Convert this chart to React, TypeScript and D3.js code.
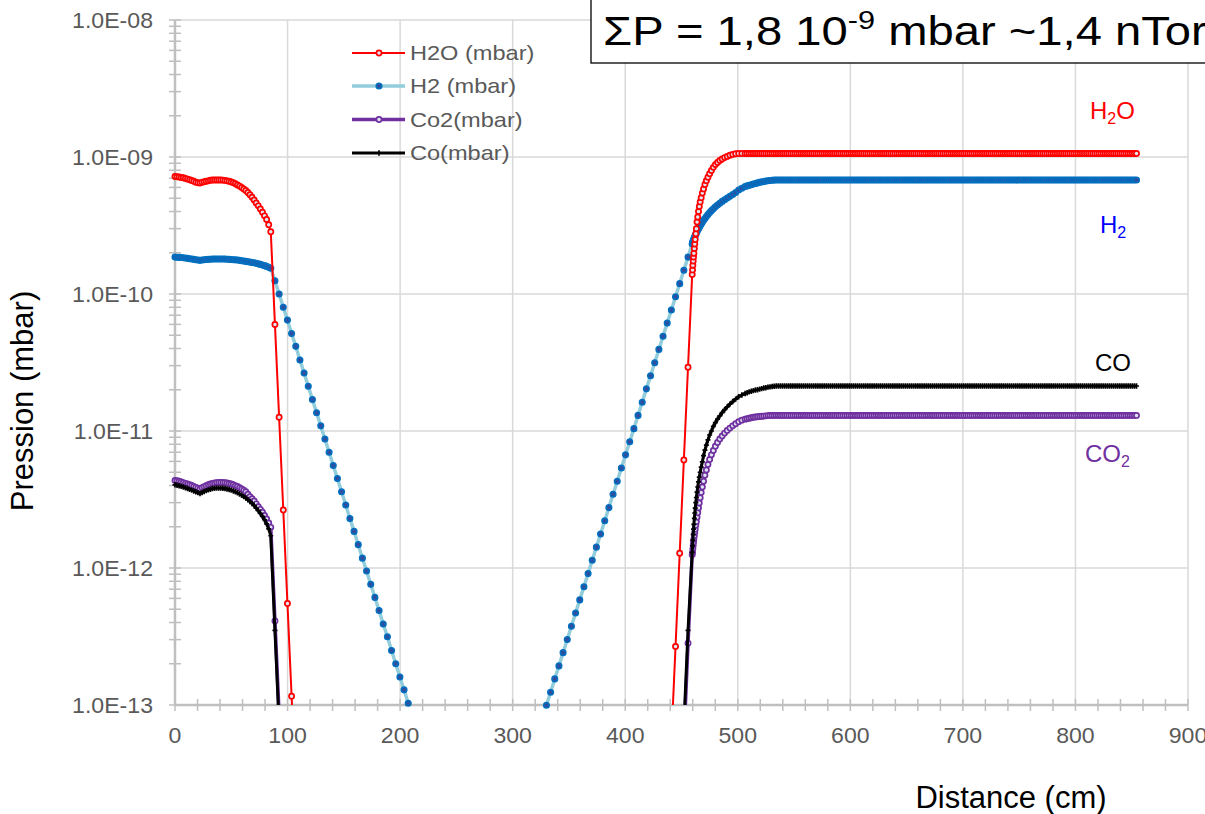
import React from "react";
import * as d3 from "d3";

// ---------- DATA ----------
const xTicks = [0, 100, 200, 300, 400, 500, 600, 700, 800, 900];
const yTicks = [1e-13, 1e-12, 1e-11, 1e-10, 1e-9, 1e-8];
const yTickLabels = ["1.0E-13", "1.0E-12", "1.0E-11", "1.0E-10", "1.0E-09", "1.0E-08"];

// simulation mesh (cm)
const distLeft = [
  0, 1.85, 3.7, 5.55, 7.4, 9.25, 11.1, 12.95, 14.8, 16.65,
  18.5, 20.35, 22.2, 24.05, 25.9, 27.75, 29.6, 31.45, 33.3, 35.15,
  37, 38.85, 40.7, 42.55, 44.4, 46.25, 48.1, 49.95, 51.8, 53.65,
  55.5, 57.35, 59.2, 61.05, 62.9, 64.75, 66.6, 68.45, 70.3, 72.15,
  74, 75.85, 77.7, 79.55, 81.4, 83.25, 85.1,
  88.8, 92.5, 96.2, 99.9, 103.6, 107.3, 111, 114.7, 118.4, 122.1,
  125.8, 129.5, 133.2, 136.9, 140.6, 144.3, 148, 151.7, 155.4, 159.1,
  162.8, 166.5, 170.2, 173.9, 177.6, 181.3, 185, 188.7, 192.4, 196.1,
  199.8, 203.5, 207.2, 210.9,
];
const distRise = [
  326.3, 330.0, 333.7, 337.4, 341.1, 344.8, 348.5, 352.2, 355.9, 359.6,
  363.3, 367.0, 370.7, 374.4, 378.1, 381.8, 385.5, 389.2, 392.9, 396.6,
  400.3, 404.0, 407.7, 411.4, 415.1, 418.8, 422.5, 426.2, 429.9, 433.6,
  437.3, 441.0, 444.7, 448.4, 452.1, 455.8, 459.5,
];
const distRefined = [
  459.8, 460.1, 460.4, 460.7, 461.0, 461.4, 461.8, 462.2, 462.7, 463.2,
  463.8, 464.4, 465.1, 465.8, 466.6, 467.5, 468.5, 469.6, 470.8, 472.1,
  473.5, 475.0, 476.6, 478.3, 480.1, 482.0, 484.0, 486.1, 488.3, 490.6,
  493.0, 495.5, 498.1, 500.8, 503.6, 506.5,
];
const distTail = [
  508.3, 510.15, 512.0, 513.85, 515.7, 517.55, 519.4, 521.25, 523.1, 524.95,
  526.8, 528.65, 530.5, 532.35, 534.2, 536.05, 537.9, 539.75, 541.6, 543.45,
  545.3, 547.15, 549.0, 550.85, 552.7, 554.55, 556.4, 558.25, 560.1, 561.95,
  563.8, 565.65, 567.5, 569.35, 571.2, 573.05, 574.9, 576.75, 578.6, 580.45,
  582.3, 584.15, 586.0, 587.85, 589.7, 591.55, 593.4, 595.25, 597.1, 598.95,
  600.8, 602.65, 604.5, 606.35, 608.2, 610.05, 611.9, 613.75, 615.6, 617.45,
  619.3, 621.15, 623.0, 624.85, 626.7, 628.55, 630.4, 632.25, 634.1, 635.95,
  637.8, 639.65, 641.5, 643.35, 645.2, 647.05, 648.9, 650.75, 652.6, 654.45,
  656.3, 658.15, 660.0, 661.85, 663.7, 665.55, 667.4, 669.25, 671.1, 672.95,
  674.8, 676.65, 678.5, 680.35, 682.2, 684.05, 685.9, 687.75, 689.6, 691.45,
  693.3, 695.15, 697.0, 698.85, 700.7, 702.55, 704.4, 706.25, 708.1, 709.95,
  711.8, 713.65, 715.5, 717.35, 719.2, 721.05, 722.9, 724.75, 726.6, 728.45,
  730.3, 732.15, 734.0, 735.85, 737.7, 739.55, 741.4, 743.25, 745.1, 746.95,
  748.8, 750.65, 752.5, 754.35, 756.2, 758.05, 759.9, 761.75, 763.6, 765.45,
  767.3, 769.15, 771.0, 772.85, 774.7, 776.55, 778.4, 780.25, 782.1, 783.95,
  785.8, 787.65, 789.5, 791.35, 793.2, 795.05, 796.9, 798.75, 800.6, 802.45,
  804.3, 806.15, 808.0, 809.85, 811.7, 813.55, 815.4, 817.25, 819.1, 820.95,
  822.8, 824.65, 826.5, 828.35, 830.2, 832.05, 833.9, 835.75, 837.6, 839.45,
  841.3, 843.15, 845.0, 846.85, 848.7, 850.55, 852.4, 854.25,
];

// H2O (mbar)
const h2oLeft = [
  7.2e-10, 7.18e-10, 7.15e-10, 7.1e-10, 7.05e-10, 6.98e-10, 6.9e-10, 6.83e-10, 6.75e-10, 6.65e-10,
  6.55e-10, 6.48e-10, 6.45e-10, 6.53e-10, 6.6e-10, 6.65e-10, 6.7e-10, 6.76e-10, 6.8e-10, 6.8e-10,
  6.8e-10, 6.8e-10, 6.8e-10, 6.78e-10, 6.75e-10, 6.7e-10, 6.65e-10, 6.58e-10, 6.5e-10, 6.38e-10,
  6.25e-10, 6.13e-10, 6.0e-10, 5.85e-10, 5.7e-10, 5.5e-10, 5.3e-10, 5.08e-10, 4.85e-10, 4.62e-10,
  4.4e-10, 4.17e-10, 3.95e-10, 3.72e-10, 3.5e-10, 3.2e-10, 2.85e-10,
  6.0e-11, 1.26e-11, 2.65e-12, 5.5e-13, 1.16e-13, 2.4e-14,
];
const h2oRise = [5.6e-14, 2.67e-13, 1.28e-12, 6.14e-12, 2.92e-11, 1.39e-10];
const h2oRefined = [
  1.5e-10, 1.62e-10, 1.74e-10, 1.86e-10, 1.98e-10, 2.15e-10, 2.32e-10, 2.5e-10, 2.75e-10, 3.0e-10,
  3.35e-10, 3.65e-10, 4.0e-10, 4.35e-10, 4.7e-10, 5.05e-10, 5.45e-10, 5.85e-10, 6.3e-10, 6.72e-10,
  7.12e-10, 7.55e-10, 7.98e-10, 8.4e-10, 8.8e-10, 9.12e-10, 9.42e-10, 9.68e-10, 9.9e-10, 1.01e-9,
  1.03e-9, 1.045e-9, 1.055e-9, 1.06e-9, 1.06e-9, 1.06e-9,
];
const h2oTail = [
  1.06e-9, 1.06e-9, 1.06e-9, 1.06e-9, 1.06e-9, 1.06e-9, 1.06e-9, 1.06e-9, 1.06e-9, 1.06e-9,
  1.06e-9, 1.06e-9, 1.06e-9, 1.06e-9, 1.06e-9, 1.06e-9, 1.06e-9, 1.06e-9, 1.06e-9, 1.06e-9,
  1.06e-9, 1.06e-9, 1.06e-9, 1.06e-9, 1.06e-9, 1.06e-9, 1.06e-9, 1.06e-9, 1.06e-9, 1.06e-9,
  1.06e-9, 1.06e-9, 1.06e-9, 1.06e-9, 1.06e-9, 1.06e-9, 1.06e-9, 1.06e-9, 1.06e-9, 1.06e-9,
  1.06e-9, 1.06e-9, 1.06e-9, 1.06e-9, 1.06e-9, 1.06e-9, 1.06e-9, 1.06e-9, 1.06e-9, 1.06e-9,
  1.06e-9, 1.06e-9, 1.06e-9, 1.06e-9, 1.06e-9, 1.06e-9, 1.06e-9, 1.06e-9, 1.06e-9, 1.06e-9,
  1.06e-9, 1.06e-9, 1.06e-9, 1.06e-9, 1.06e-9, 1.06e-9, 1.06e-9, 1.06e-9, 1.06e-9, 1.06e-9,
  1.06e-9, 1.06e-9, 1.06e-9, 1.06e-9, 1.06e-9, 1.06e-9, 1.06e-9, 1.06e-9, 1.06e-9, 1.06e-9,
  1.06e-9, 1.06e-9, 1.06e-9, 1.06e-9, 1.06e-9, 1.06e-9, 1.06e-9, 1.06e-9, 1.06e-9, 1.06e-9,
  1.06e-9, 1.06e-9, 1.06e-9, 1.06e-9, 1.06e-9, 1.06e-9, 1.06e-9, 1.06e-9, 1.06e-9, 1.06e-9,
  1.06e-9, 1.06e-9, 1.06e-9, 1.06e-9, 1.06e-9, 1.06e-9, 1.06e-9, 1.06e-9, 1.06e-9, 1.06e-9,
  1.06e-9, 1.06e-9, 1.06e-9, 1.06e-9, 1.06e-9, 1.06e-9, 1.06e-9, 1.06e-9, 1.06e-9, 1.06e-9,
  1.06e-9, 1.06e-9, 1.06e-9, 1.06e-9, 1.06e-9, 1.06e-9, 1.06e-9, 1.06e-9, 1.06e-9, 1.06e-9,
  1.06e-9, 1.06e-9, 1.06e-9, 1.06e-9, 1.06e-9, 1.06e-9, 1.06e-9, 1.06e-9, 1.06e-9, 1.06e-9,
  1.06e-9, 1.06e-9, 1.06e-9, 1.06e-9, 1.06e-9, 1.06e-9, 1.06e-9, 1.06e-9, 1.06e-9, 1.06e-9,
  1.06e-9, 1.06e-9, 1.06e-9, 1.06e-9, 1.06e-9, 1.06e-9, 1.06e-9, 1.06e-9, 1.06e-9, 1.06e-9,
  1.06e-9, 1.06e-9, 1.06e-9, 1.06e-9, 1.06e-9, 1.06e-9, 1.06e-9, 1.06e-9, 1.06e-9, 1.06e-9,
  1.06e-9, 1.06e-9, 1.06e-9, 1.06e-9, 1.06e-9, 1.06e-9, 1.06e-9, 1.06e-9, 1.06e-9, 1.06e-9,
  1.06e-9, 1.06e-9, 1.06e-9, 1.06e-9, 1.06e-9, 1.06e-9, 1.06e-9, 1.06e-9,
];

// H2 (mbar)
const h2Left = [
  1.86e-10, 1.855e-10, 1.85e-10, 1.845e-10, 1.84e-10, 1.83e-10, 1.82e-10, 1.81e-10, 1.8e-10, 1.79e-10,
  1.78e-10, 1.77e-10, 1.76e-10, 1.77e-10, 1.78e-10, 1.785e-10, 1.79e-10, 1.795e-10, 1.8e-10, 1.8e-10,
  1.8e-10, 1.8e-10, 1.8e-10, 1.8e-10, 1.8e-10, 1.795e-10, 1.79e-10, 1.785e-10, 1.78e-10, 1.775e-10,
  1.77e-10, 1.76e-10, 1.75e-10, 1.74e-10, 1.73e-10, 1.72e-10, 1.71e-10, 1.7e-10, 1.69e-10, 1.675e-10,
  1.66e-10, 1.645e-10, 1.63e-10, 1.61e-10, 1.59e-10, 1.565e-10, 1.54e-10,
  1.25e-10, 1.0e-10, 8.0e-11, 6.45e-11, 5.15e-11, 4.15e-11, 3.3e-11, 2.65e-11, 2.12e-11, 1.7e-11,
  1.36e-11, 1.09e-11, 8.75e-12, 7.0e-12, 5.6e-12, 4.5e-12, 3.6e-12, 2.88e-12, 2.3e-12, 1.85e-12,
  1.48e-12, 1.18e-12, 9.5e-13, 7.6e-13, 6.1e-13, 4.9e-13, 3.9e-13, 3.15e-13, 2.5e-13, 2.0e-13,
  1.6e-13, 1.29e-13, 1.03e-13, 8.3e-14,
];
const h2Rise = [
  7.97e-14, 9.95e-14, 1.24e-13, 1.55e-13, 1.93e-13, 2.41e-13, 3.01e-13, 3.76e-13, 4.69e-13, 5.85e-13,
  7.3e-13, 9.1e-13, 1.14e-12, 1.42e-12, 1.77e-12, 2.21e-12, 2.76e-12, 3.45e-12, 4.3e-12, 5.37e-12,
  6.7e-12, 8.35e-12, 1.04e-11, 1.3e-11, 1.62e-11, 2.03e-11, 2.53e-11, 3.15e-11, 3.94e-11, 4.91e-11,
  6.13e-11, 7.65e-11, 9.55e-11, 1.19e-10, 1.49e-10, 1.86e-10, 2.32e-10,
];
const h2Refined = [
  2.36e-10, 2.4e-10, 2.44e-10, 2.48e-10, 2.52e-10, 2.57e-10, 2.62e-10, 2.67e-10, 2.73e-10, 2.79e-10,
  2.86e-10, 2.93e-10, 3.0e-10, 3.07e-10, 3.15e-10, 3.24e-10, 3.34e-10, 3.45e-10, 3.56e-10, 3.68e-10,
  3.8e-10, 3.93e-10, 4.06e-10, 4.19e-10, 4.33e-10, 4.46e-10, 4.6e-10, 4.74e-10, 4.88e-10, 5.02e-10,
  5.16e-10, 5.32e-10, 5.5e-10, 5.75e-10, 5.92e-10, 6.08e-10,
];
const h2Tail = [
  6.15e-10, 6.22e-10, 6.28e-10, 6.35e-10, 6.41e-10, 6.47e-10, 6.53e-10, 6.58e-10, 6.63e-10, 6.67e-10,
  6.71e-10, 6.74e-10, 6.76e-10, 6.78e-10, 6.79e-10, 6.8e-10, 6.8e-10, 6.8e-10, 6.8e-10, 6.8e-10,
  6.8e-10, 6.8e-10, 6.8e-10, 6.8e-10, 6.8e-10, 6.8e-10, 6.8e-10, 6.8e-10, 6.8e-10, 6.8e-10,
  6.8e-10, 6.8e-10, 6.8e-10, 6.8e-10, 6.8e-10, 6.8e-10, 6.8e-10, 6.8e-10, 6.8e-10, 6.8e-10,
  6.8e-10, 6.8e-10, 6.8e-10, 6.8e-10, 6.8e-10, 6.8e-10, 6.8e-10, 6.8e-10, 6.8e-10, 6.8e-10,
  6.8e-10, 6.8e-10, 6.8e-10, 6.8e-10, 6.8e-10, 6.8e-10, 6.8e-10, 6.8e-10, 6.8e-10, 6.8e-10,
  6.8e-10, 6.8e-10, 6.8e-10, 6.8e-10, 6.8e-10, 6.8e-10, 6.8e-10, 6.8e-10, 6.8e-10, 6.8e-10,
  6.8e-10, 6.8e-10, 6.8e-10, 6.8e-10, 6.8e-10, 6.8e-10, 6.8e-10, 6.8e-10, 6.8e-10, 6.8e-10,
  6.8e-10, 6.8e-10, 6.8e-10, 6.8e-10, 6.8e-10, 6.8e-10, 6.8e-10, 6.8e-10, 6.8e-10, 6.8e-10,
  6.8e-10, 6.8e-10, 6.8e-10, 6.8e-10, 6.8e-10, 6.8e-10, 6.8e-10, 6.8e-10, 6.8e-10, 6.8e-10,
  6.8e-10, 6.8e-10, 6.8e-10, 6.8e-10, 6.8e-10, 6.8e-10, 6.8e-10, 6.8e-10, 6.8e-10, 6.8e-10,
  6.8e-10, 6.8e-10, 6.8e-10, 6.8e-10, 6.8e-10, 6.8e-10, 6.8e-10, 6.8e-10, 6.8e-10, 6.8e-10,
  6.8e-10, 6.8e-10, 6.8e-10, 6.8e-10, 6.8e-10, 6.8e-10, 6.8e-10, 6.8e-10, 6.8e-10, 6.8e-10,
  6.8e-10, 6.8e-10, 6.8e-10, 6.8e-10, 6.8e-10, 6.8e-10, 6.8e-10, 6.8e-10, 6.8e-10, 6.8e-10,
  6.8e-10, 6.8e-10, 6.8e-10, 6.8e-10, 6.8e-10, 6.8e-10, 6.8e-10, 6.8e-10, 6.8e-10, 6.8e-10,
  6.8e-10, 6.8e-10, 6.8e-10, 6.8e-10, 6.8e-10, 6.8e-10, 6.8e-10, 6.8e-10, 6.8e-10, 6.8e-10,
  6.8e-10, 6.8e-10, 6.8e-10, 6.8e-10, 6.8e-10, 6.8e-10, 6.8e-10, 6.8e-10, 6.8e-10, 6.8e-10,
  6.8e-10, 6.8e-10, 6.8e-10, 6.8e-10, 6.8e-10, 6.8e-10, 6.8e-10, 6.8e-10, 6.8e-10, 6.8e-10,
  6.8e-10, 6.8e-10, 6.8e-10, 6.8e-10, 6.8e-10, 6.8e-10, 6.8e-10, 6.8e-10,
];

// Co2 (mbar)
const co2Left = [
  4.35e-12, 4.33e-12, 4.3e-12, 4.25e-12, 4.2e-12, 4.15e-12, 4.1e-12, 4.05e-12, 4.0e-12, 3.94e-12,
  3.88e-12, 3.83e-12, 3.78e-12, 3.85e-12, 3.92e-12, 3.99e-12, 4.05e-12, 4.1e-12, 4.15e-12, 4.18e-12,
  4.2e-12, 4.21e-12, 4.22e-12, 4.21e-12, 4.2e-12, 4.17e-12, 4.14e-12, 4.1e-12, 4.05e-12, 3.99e-12,
  3.93e-12, 3.86e-12, 3.78e-12, 3.69e-12, 3.6e-12, 3.46e-12, 3.32e-12, 3.2e-12, 3.08e-12, 2.94e-12,
  2.8e-12, 2.68e-12, 2.55e-12, 2.42e-12, 2.28e-12, 2.13e-12, 1.98e-12,
  4.1e-13, 8.5e-14,
];
const co2Rise = [5.5e-14, 2.82e-13, 1.25e-12];
const co2Refined = [
  1.3e-12, 1.38e-12, 1.46e-12, 1.54e-12, 1.62e-12, 1.72e-12, 1.82e-12, 1.92e-12, 2.05e-12, 2.18e-12,
  2.35e-12, 2.53e-12, 2.75e-12, 2.98e-12, 3.25e-12, 3.55e-12, 3.9e-12, 4.3e-12, 4.75e-12, 5.2e-12,
  5.7e-12, 6.2e-12, 6.7e-12, 7.2e-12, 7.75e-12, 8.25e-12, 8.75e-12, 9.2e-12, 9.65e-12, 1.01e-11,
  1.05e-11, 1.09e-11, 1.13e-11, 1.17e-11, 1.2e-11, 1.22e-11,
];
const co2Tail = [
  1.23e-11, 1.24e-11, 1.25e-11, 1.26e-11, 1.265e-11, 1.27e-11, 1.275e-11, 1.28e-11, 1.285e-11, 1.29e-11,
  1.295e-11, 1.3e-11, 1.3e-11, 1.3e-11, 1.3e-11, 1.3e-11, 1.3e-11, 1.3e-11, 1.3e-11, 1.3e-11,
  1.3e-11, 1.3e-11, 1.3e-11, 1.3e-11, 1.3e-11, 1.3e-11, 1.3e-11, 1.3e-11, 1.3e-11, 1.3e-11,
  1.3e-11, 1.3e-11, 1.3e-11, 1.3e-11, 1.3e-11, 1.3e-11, 1.3e-11, 1.3e-11, 1.3e-11, 1.3e-11,
  1.3e-11, 1.3e-11, 1.3e-11, 1.3e-11, 1.3e-11, 1.3e-11, 1.3e-11, 1.3e-11, 1.3e-11, 1.3e-11,
  1.3e-11, 1.3e-11, 1.3e-11, 1.3e-11, 1.3e-11, 1.3e-11, 1.3e-11, 1.3e-11, 1.3e-11, 1.3e-11,
  1.3e-11, 1.3e-11, 1.3e-11, 1.3e-11, 1.3e-11, 1.3e-11, 1.3e-11, 1.3e-11, 1.3e-11, 1.3e-11,
  1.3e-11, 1.3e-11, 1.3e-11, 1.3e-11, 1.3e-11, 1.3e-11, 1.3e-11, 1.3e-11, 1.3e-11, 1.3e-11,
  1.3e-11, 1.3e-11, 1.3e-11, 1.3e-11, 1.3e-11, 1.3e-11, 1.3e-11, 1.3e-11, 1.3e-11, 1.3e-11,
  1.3e-11, 1.3e-11, 1.3e-11, 1.3e-11, 1.3e-11, 1.3e-11, 1.3e-11, 1.3e-11, 1.3e-11, 1.3e-11,
  1.3e-11, 1.3e-11, 1.3e-11, 1.3e-11, 1.3e-11, 1.3e-11, 1.3e-11, 1.3e-11, 1.3e-11, 1.3e-11,
  1.3e-11, 1.3e-11, 1.3e-11, 1.3e-11, 1.3e-11, 1.3e-11, 1.3e-11, 1.3e-11, 1.3e-11, 1.3e-11,
  1.3e-11, 1.3e-11, 1.3e-11, 1.3e-11, 1.3e-11, 1.3e-11, 1.3e-11, 1.3e-11, 1.3e-11, 1.3e-11,
  1.3e-11, 1.3e-11, 1.3e-11, 1.3e-11, 1.3e-11, 1.3e-11, 1.3e-11, 1.3e-11, 1.3e-11, 1.3e-11,
  1.3e-11, 1.3e-11, 1.3e-11, 1.3e-11, 1.3e-11, 1.3e-11, 1.3e-11, 1.3e-11, 1.3e-11, 1.3e-11,
  1.3e-11, 1.3e-11, 1.3e-11, 1.3e-11, 1.3e-11, 1.3e-11, 1.3e-11, 1.3e-11, 1.3e-11, 1.3e-11,
  1.3e-11, 1.3e-11, 1.3e-11, 1.3e-11, 1.3e-11, 1.3e-11, 1.3e-11, 1.3e-11, 1.3e-11, 1.3e-11,
  1.3e-11, 1.3e-11, 1.3e-11, 1.3e-11, 1.3e-11, 1.3e-11, 1.3e-11, 1.3e-11, 1.3e-11, 1.3e-11,
  1.3e-11, 1.3e-11, 1.3e-11, 1.3e-11, 1.3e-11, 1.3e-11, 1.3e-11, 1.3e-11,
];

// Co (mbar)
const coLeft = [
  4.05e-12, 4.02e-12, 3.98e-12, 3.94e-12, 3.9e-12, 3.85e-12, 3.8e-12, 3.75e-12, 3.7e-12, 3.65e-12,
  3.6e-12, 3.55e-12, 3.5e-12, 3.56e-12, 3.62e-12, 3.67e-12, 3.72e-12, 3.76e-12, 3.8e-12, 3.82e-12,
  3.83e-12, 3.83e-12, 3.83e-12, 3.82e-12, 3.8e-12, 3.77e-12, 3.74e-12, 3.7e-12, 3.65e-12, 3.6e-12,
  3.54e-12, 3.47e-12, 3.4e-12, 3.32e-12, 3.24e-12, 3.15e-12, 3.06e-12, 2.96e-12, 2.86e-12, 2.74e-12,
  2.62e-12, 2.5e-12, 2.38e-12, 2.25e-12, 2.1e-12, 1.93e-12, 1.72e-12,
  3.5e-13, 7.2e-14,
];
const coRise = [7.0e-14, 3.5e-13, 1.3e-12];
const coRefined = [
  1.45e-12, 1.6e-12, 1.76e-12, 1.92e-12, 2.08e-12, 2.3e-12, 2.52e-12, 2.74e-12, 3.0e-12, 3.27e-12,
  3.58e-12, 3.9e-12, 4.25e-12, 4.6e-12, 5.0e-12, 5.45e-12, 5.95e-12, 6.6e-12, 7.25e-12, 7.9e-12,
  8.6e-12, 9.35e-12, 1.0e-11, 1.08e-11, 1.15e-11, 1.22e-11, 1.29e-11, 1.36e-11, 1.43e-11, 1.5e-11,
  1.57e-11, 1.64e-11, 1.71e-11, 1.78e-11, 1.83e-11, 1.88e-11,
];
const coTail = [
  1.9e-11, 1.93e-11, 1.95e-11, 1.97e-11, 1.99e-11, 2.0e-11, 2.02e-11, 2.04e-11, 2.06e-11, 2.07e-11,
  2.09e-11, 2.1e-11, 2.11e-11, 2.12e-11, 2.13e-11, 2.13e-11, 2.13e-11, 2.13e-11, 2.13e-11, 2.13e-11,
  2.13e-11, 2.13e-11, 2.13e-11, 2.13e-11, 2.13e-11, 2.13e-11, 2.13e-11, 2.13e-11, 2.13e-11, 2.13e-11,
  2.13e-11, 2.13e-11, 2.13e-11, 2.13e-11, 2.13e-11, 2.13e-11, 2.13e-11, 2.13e-11, 2.13e-11, 2.13e-11,
  2.13e-11, 2.13e-11, 2.13e-11, 2.13e-11, 2.13e-11, 2.13e-11, 2.13e-11, 2.13e-11, 2.13e-11, 2.13e-11,
  2.13e-11, 2.13e-11, 2.13e-11, 2.13e-11, 2.13e-11, 2.13e-11, 2.13e-11, 2.13e-11, 2.13e-11, 2.13e-11,
  2.13e-11, 2.13e-11, 2.13e-11, 2.13e-11, 2.13e-11, 2.13e-11, 2.13e-11, 2.13e-11, 2.13e-11, 2.13e-11,
  2.13e-11, 2.13e-11, 2.13e-11, 2.13e-11, 2.13e-11, 2.13e-11, 2.13e-11, 2.13e-11, 2.13e-11, 2.13e-11,
  2.13e-11, 2.13e-11, 2.13e-11, 2.13e-11, 2.13e-11, 2.13e-11, 2.13e-11, 2.13e-11, 2.13e-11, 2.13e-11,
  2.13e-11, 2.13e-11, 2.13e-11, 2.13e-11, 2.13e-11, 2.13e-11, 2.13e-11, 2.13e-11, 2.13e-11, 2.13e-11,
  2.13e-11, 2.13e-11, 2.13e-11, 2.13e-11, 2.13e-11, 2.13e-11, 2.13e-11, 2.13e-11, 2.13e-11, 2.13e-11,
  2.13e-11, 2.13e-11, 2.13e-11, 2.13e-11, 2.13e-11, 2.13e-11, 2.13e-11, 2.13e-11, 2.13e-11, 2.13e-11,
  2.13e-11, 2.13e-11, 2.13e-11, 2.13e-11, 2.13e-11, 2.13e-11, 2.13e-11, 2.13e-11, 2.13e-11, 2.13e-11,
  2.13e-11, 2.13e-11, 2.13e-11, 2.13e-11, 2.13e-11, 2.13e-11, 2.13e-11, 2.13e-11, 2.13e-11, 2.13e-11,
  2.13e-11, 2.13e-11, 2.13e-11, 2.13e-11, 2.13e-11, 2.13e-11, 2.13e-11, 2.13e-11, 2.13e-11, 2.13e-11,
  2.13e-11, 2.13e-11, 2.13e-11, 2.13e-11, 2.13e-11, 2.13e-11, 2.13e-11, 2.13e-11, 2.13e-11, 2.13e-11,
  2.13e-11, 2.13e-11, 2.13e-11, 2.13e-11, 2.13e-11, 2.13e-11, 2.13e-11, 2.13e-11, 2.13e-11, 2.13e-11,
  2.13e-11, 2.13e-11, 2.13e-11, 2.13e-11, 2.13e-11, 2.13e-11, 2.13e-11, 2.13e-11, 2.13e-11, 2.13e-11,
  2.13e-11, 2.13e-11, 2.13e-11, 2.13e-11, 2.13e-11, 2.13e-11, 2.13e-11, 2.13e-11,
];

// ---------- helpers ----------
type Pt = [number, number];
function pairs(dist: number[], values: number[], alignEnd = false): Pt[] {
  const off = alignEnd ? dist.length - values.length : 0;
  const n = Math.min(values.length, dist.length);
  const out: Pt[] = [];
  for (let i = 0; i < n; i++) out.push([dist[i + off], values[i]]);
  return out;
}
function build(left: number[], rise: number[], refined: number[], tail: number[]): Pt[] {
  return [
    ...pairs(distLeft, left),
    ...pairs(distRise, rise, true),
    ...pairs(distRefined, refined),
    ...pairs(distTail, tail),
  ];
}

const FONT = "'Liberation Sans', Arial, Helvetica, sans-serif";
const W = 1205;
const H = 814;
const PL = 175, PR = 1188, PT = 20, PB = 705;

const x = d3.scaleLinear().domain([0, 900]).range([PL, PR]);
const y = d3.scaleLog().domain([1e-13, 1e-8]).range([PB, PT]);

type MarkerKind = "open" | "dot" | "plus";
interface Series {
  key: string;
  label: string;
  points: Pt[];
  color: string;
  lineColor: string;
  lineWidth: number;
  marker: MarkerKind;
}

const seriesList: Series[] = [
  { key: "h2o", label: "H2O (mbar)", points: build(h2oLeft, h2oRise, h2oRefined, h2oTail), color: "#ff0000", lineColor: "#ff0000", lineWidth: 2, marker: "open" },
  { key: "h2", label: "H2 (mbar)", points: build(h2Left, h2Rise, h2Refined, h2Tail), color: "#0070c0", lineColor: "#92cddc", lineWidth: 3.5, marker: "dot" },
  { key: "co2", label: "Co2(mbar)", points: build(co2Left, co2Rise, co2Refined, co2Tail), color: "#7030a0", lineColor: "#7030a0", lineWidth: 3.5, marker: "open" },
  { key: "co", label: "Co(mbar)", points: build(coLeft, coRise, coRefined, coTail), color: "#000000", lineColor: "#000000", lineWidth: 3, marker: "plus" },
];
const drawOrder = ["h2", "h2o", "co2", "co"];

function Marker({ kind, cx, cy, color }: { kind: MarkerKind; cx: number; cy: number; color: string }) {
  if (kind === "open")
    return <circle cx={cx} cy={cy} r={2.6} fill="#dfe8f2" stroke={color} strokeWidth={1.7} />;
  if (kind === "dot")
    return <circle cx={cx} cy={cy} r={2.8} fill="#2f4ea0" stroke={color} strokeWidth={1.5} />;
  return (
    <path d={`M${cx - 2.5},${cy}H${cx + 2.5}M${cx},${cy - 2.7}V${cy + 2.7}`} stroke={color} strokeWidth={1.7} fill="none" />
  );
}

export default function App() {
  const line = d3
    .line<Pt>()
    .x((d) => x(d[0]))
    .y((d) => y(d[1]));

  const minorY = y.ticks().filter((t) => t < 1e-8 + 1e-20);
  const minorX = d3.range(0, 901, 20);
  const grey = "#595959";
  const legendRows = [53, 86, 119.5, 153];

  return (
    <svg
      width={W}
      height={H}
      style={{ position: "absolute", left: 0, top: 0, background: "#fff" }}
      fontFamily={FONT}
    >
      <defs>
        <clipPath id="plotClip">
          <rect x={PL} y={PT - 6} width={PR - PL + 8} height={PB - PT + 6} />
        </clipPath>
        <clipPath id="markerClip">
          <rect x={PL - 8} y={PT - 8} width={PR - PL + 16} height={PB - PT + 14} />
        </clipPath>
      </defs>
      <rect x={0} y={0} width={W} height={H} fill="#fff" />

      {/* gridlines */}
      {xTicks.filter((t) => t > 0).map((t) => (
        <line key={"gx" + t} x1={x(t)} x2={x(t)} y1={PT} y2={PB} stroke="#d9d9d9" strokeWidth={1.5} />
      ))}
      {yTicks.filter((t) => t > 1e-13).map((t) => (
        <line key={"gy" + t} x1={PL} x2={PR} y1={y(t)} y2={y(t)} stroke="#d9d9d9" strokeWidth={1.5} />
      ))}

      {/* axes */}
      <line x1={PL} x2={PL} y1={PT} y2={PB} stroke="#bfbfbf" strokeWidth={2.5} />
      {minorY.map((t, i) => (
        <line key={"ty" + i} x1={PL - 6} x2={PL + 6} y1={y(t)} y2={y(t)} stroke="#bfbfbf" strokeWidth={1.5} />
      ))}
      <line x1={PL} x2={PR} y1={PB} y2={PB} stroke="#bfbfbf" strokeWidth={2.5} />
      {minorX.map((t) => (
        <line key={"tx" + t} x1={x(t)} x2={x(t)} y1={PB - 6} y2={PB + 6} stroke="#bfbfbf" strokeWidth={1.5} />
      ))}

      {/* tick labels */}
      {yTicks.map((t, i) => (
        <text key={"ly" + t} transform={`translate(153,${y(t)}) scale(1.05,1)`} dy="0.36em" textAnchor="end" fontSize={22} fill={grey}>
          {yTickLabels[i]}
        </text>
      ))}
      {xTicks.map((t) => (
        <text key={"lx" + t} transform={`translate(${x(t)},743) scale(1.05,1)`} textAnchor="middle" fontSize={22} fill={grey}>
          {t}
        </text>
      ))}

      {/* series */}
      {drawOrder.map((k) => {
        const s = seriesList.find((d) => d.key === k)!;
        return (
          <g key={s.key}>
            <path d={line(s.points) || ""} fill="none" stroke={s.lineColor} strokeWidth={s.lineWidth} clipPath="url(#plotClip)" strokeLinejoin="round" />
            <g clipPath="url(#markerClip)">
              {s.points
                .filter((p) => p[1] >= 0.97e-13)
                .map((p, i) => (
                  <Marker key={i} kind={s.marker} cx={x(p[0])} cy={y(p[1])} color={s.color} />
                ))}
            </g>
          </g>
        );
      })}

      {/* legend */}
      {seriesList.map((s, i) => (
        <g key={"lg" + s.key}>
          <line x1={352} x2={405} y1={legendRows[i]} y2={legendRows[i]} stroke={s.lineColor} strokeWidth={s.lineWidth} />
          <Marker kind={s.marker} cx={379} cy={legendRows[i]} color={s.color} />
          <text transform={`translate(410,${legendRows[i]}) scale(1.15,1)`} dy="0.36em" fontSize={20.5} fill={grey}>
            {s.label}
          </text>
        </g>
      ))}

      {/* annotations */}
      <text x={1090} y={119} fontSize={24} fill="#ff0000">
        H<tspan fontSize={16} dy={5}>2</tspan>
        <tspan dy={-5}>O</tspan>
      </text>
      <text x={1100} y={233} fontSize={24} fill="#0000ff">
        H<tspan fontSize={16} dy={5}>2</tspan>
      </text>
      <text x={1095} y={371} fontSize={24} fill="#000">
        CO
      </text>
      <text x={1085} y={462} fontSize={24} fill="#7030a0">
        CO<tspan fontSize={16} dy={5}>2</tspan>
      </text>

      {/* total pressure box (text runs past the right edge, as in the original) */}
      <rect x={591} y={-2} width={700} height={65} fill="#fff" stroke="#000" strokeWidth={1.3} />
      <text transform="translate(603,45) scale(1.18,1)" fontSize={40} fill="#000">
        ΣP = 1,8 10<tspan fontSize={26} dy={-16}>-9</tspan>
        <tspan dy={16}> mbar ~1,4 nTorr</tspan>
      </text>

      {/* axis titles */}
      <text x={1011} y={808} textAnchor="middle" fontSize={31} fill="#000">
        Distance (cm)
      </text>
      <text transform="translate(33,401) rotate(-90)" textAnchor="middle" fontSize={31} fill="#000">
        Pression (mbar)
      </text>
    </svg>
  );
}
